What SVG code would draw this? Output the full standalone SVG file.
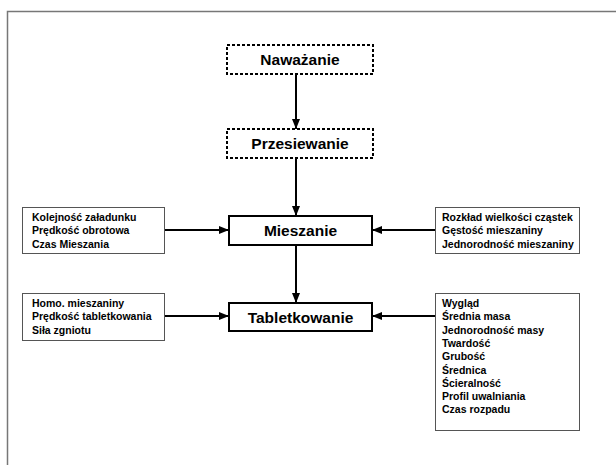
<svg xmlns="http://www.w3.org/2000/svg" width="616" height="465" viewBox="0 0 616 465">
<defs>
<marker id="ah" viewBox="0 0 10 8" refX="10" refY="4" markerWidth="10" markerHeight="8" markerUnits="userSpaceOnUse" orient="auto">
<path d="M0,0 L10,4 L0,8 Z" fill="#000"/>
</marker>
<style>
.main{fill:#fff;stroke:#000;stroke-width:2}
.dot{fill:#fff;stroke:#000;stroke-width:2;stroke-dasharray:3 2}
.side{fill:#fff;stroke:#555;stroke-width:1}
.t1{font-family:"Liberation Sans",Arial,sans-serif;font-weight:bold;font-size:15.5px;text-anchor:middle;fill:#000}
.t2{font-family:"Liberation Sans",Arial,sans-serif;font-weight:bold;font-size:10.5px;fill:#000}
.c{fill:none;stroke:#000;stroke-width:2;marker-end:url(#ah)}
</style>
</defs>
<rect width="616" height="465" fill="#fff"/>
<path d="M7.5,465 V11.5 H616" fill="none" stroke="#777" stroke-width="1.5"/>
<g id="connectors">
<path class="c" d="M296,74 V129"/>
<path class="c" d="M296,158 V216"/>
<path class="c" d="M296,245 V303"/>
<path class="c" d="M165,230 H229"/>
<path class="c" d="M435,230 H372"/>
<path class="c" d="M165,316 H229"/>
<path class="c" d="M435,316 H372"/>
</g>
<g id="n-nawazanie">
<rect class="dot" x="227" y="45" width="146" height="29"/>
<text class="t1" x="300" y="65">Naważanie</text>
</g>
<g id="n-przesiewanie">
<rect class="dot" x="227" y="129" width="146" height="29"/>
<text class="t1" x="300" y="149">Przesiewanie</text>
</g>
<g id="n-mieszanie">
<rect class="main" x="229" y="216" width="143" height="29"/>
<text class="t1" x="300.5" y="236">Mieszanie</text>
</g>
<g id="n-tabletkowanie">
<rect class="main" x="229" y="303" width="143" height="28"/>
<text class="t1" x="300.5" y="322.5">Tabletkowanie</text>
</g>
<g id="n-left1">
<rect class="side" x="22.5" y="207.5" width="142" height="46"/>
<text class="t2" x="32" y="221">Kolejność załadunku</text>
<text class="t2" x="32" y="234.3">Prędkość obrotowa</text>
<text class="t2" x="32" y="247.6">Czas Mieszania</text>
</g>
<g id="n-left2">
<rect class="side" x="22.5" y="293.5" width="142" height="47"/>
<text class="t2" x="32" y="307">Homo. mieszaniny</text>
<text class="t2" x="32" y="320.3">Prędkość tabletkowania</text>
<text class="t2" x="32" y="333.6">Siła zgniotu</text>
</g>
<g id="n-right1">
<rect class="side" x="435.5" y="207.5" width="144" height="46"/>
<text class="t2" x="442" y="221">Rozkład wielkości cząstek</text>
<text class="t2" x="442" y="234.3">Gęstość mieszaniny</text>
<text class="t2" x="442" y="247.6">Jednorodność mieszaniny</text>
</g>
<g id="n-right2">
<rect class="side" x="435.5" y="293.5" width="144" height="137"/>
<text class="t2" x="442" y="307">Wygląd</text>
<text class="t2" x="442" y="320.3">Średnia masa</text>
<text class="t2" x="442" y="333.6">Jednorodność masy</text>
<text class="t2" x="442" y="346.9">Twardość</text>
<text class="t2" x="442" y="360.2">Grubość</text>
<text class="t2" x="442" y="373.5">Średnica</text>
<text class="t2" x="442" y="386.8">Ścieralność</text>
<text class="t2" x="442" y="400.1">Profil uwalniania</text>
<text class="t2" x="442" y="413.4">Czas rozpadu</text>
</g>
</svg>
